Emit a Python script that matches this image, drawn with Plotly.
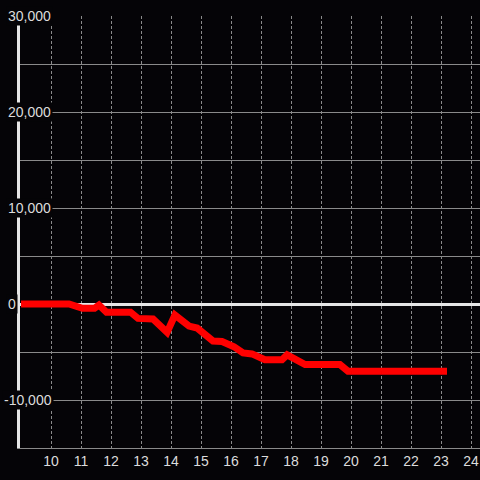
import plotly.graph_objects as go

x_vals = [9.0, 10.6, 11.05, 11.45, 11.6, 11.85, 12.65, 12.9, 13.4, 13.87, 14.13,
          14.6, 14.87, 15.4, 15.7, 16.1, 16.4, 16.7, 17.13, 17.7, 17.87, 18.47,
          19.63, 19.9, 23.2]
y_vals = [0, 0, -450, -450, -100, -850, -850, -1500, -1550, -2950, -1150,
          -2300, -2500, -3850, -3900, -4450, -5100, -5200, -5800, -5800, -5300, -6300,
          -6300, -7000, -7000]

y_ticks = [-10000, 0, 10000, 20000, 30000]
y_tick_labels = ["-10,000", "0", "10,000", "20,000", "30,000"]
x_ticks = list(range(10, 25))

bg = "#050407"
fig = go.Figure()
fig.add_trace(go.Scatter(x=x_vals, y=y_vals, mode="lines",
                         line=dict(color="#ff0000", width=7), hoverinfo="skip"))

for v, t in zip(y_ticks, y_tick_labels):
    shift = -18 if t.startswith("-") else -14
    fig.add_annotation(xref="paper", yref="y", x=0, y=v, xshift=shift, xanchor="left",
                       text=t, showarrow=False, bgcolor=bg, borderpad=1,
                       font=dict(family="Liberation Sans, Arial, sans-serif", size=14, color="#dcdcdc"))

fig.update_layout(
    width=480, height=480, margin=dict(l=20, r=0, t=16, b=32, autoexpand=False),
    paper_bgcolor=bg, plot_bgcolor=bg, showlegend=False,
    font=dict(family="Liberation Sans, Arial, sans-serif", size=14, color="#dcdcdc"),
)
fig.update_xaxes(range=[9 - 1/30, 24.3], tickvals=x_ticks, showgrid=True,
                 gridcolor="#8a8a8a", gridwidth=1, griddash="3px,2px",
                 showline=True, linecolor="#8a8a8a", linewidth=1, zeroline=False,
                 layer="below traces",
                 ticks="", automargin=False, tickfont=dict(size=14, color="#dcdcdc"))
fig.update_yaxes(range=[-15000, 30000], dtick=5000, tick0=0, showticklabels=False,
                 showgrid=True, gridcolor="#8a8a8a", gridwidth=1, automargin=False,
                 zeroline=True, zerolinecolor="#e6e6e6", zerolinewidth=3,
                 layer="below traces",
                 showline=True, linecolor="#e6e6e6", linewidth=3, ticks="")

fig.write_html("out.html", config={"displayModeBar": False},
               post_script="document.body.style.margin='0';document.body.style.overflow='hidden';")
